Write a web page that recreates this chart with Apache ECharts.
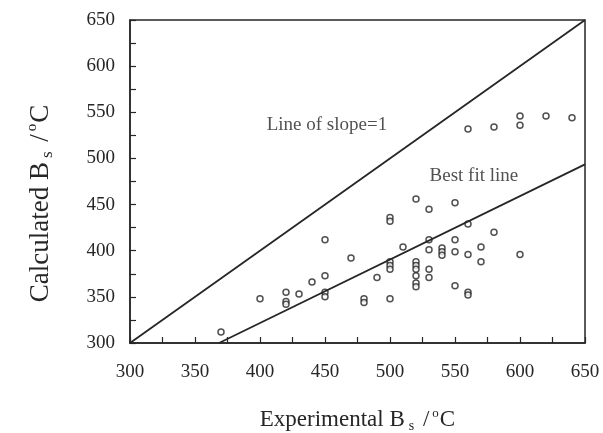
<!DOCTYPE html>
<html><head><meta charset="utf-8">
<script src="https://cdn.jsdelivr.net/npm/echarts@6/dist/echarts.min.js"></script>
<style>html,body{margin:0;padding:0;background:#fff}#c{width:603px;height:433px}</style>
</head><body><div id="c"></div>
<script>
// Experimental Bs (x) and calculated Bs (y), degrees C
const expBs = [370,400,420,420,420,430,440,450,450,450,450,470,480,480,490,
  500,500,500,500,500,500,510,520,520,520,520,520,520,520,
  530,530,530,530,530,540,540,540,550,550,550,550,560,560,560,560,
  570,570,580,600,560,580,600,600,620,640];
const calcBs = [312,348,355,345,342,353,366,412,373,355,350,392,348,344,371,
  436,432,388,384,380,348,404,456,388,384,380,373,365,361,
  445,412,401,380,371,403,399,395,452,412,399,362,429,396,355,352,
  404,388,420,396,532,534,546,536,546,544];
const slopeOneX = [300,650];
const slopeOneY = [300,650];
const fitX = [368.5,650];
const fitY = [300,493.6];
const xTicks = [300,350,400,450,500,550,600,650];
const yTicks = [300,350,400,450,500,550,600,650];
const noteText = ['Line of slope=1','Best fit line'];
const noteX = [451.5,564.5];
const noteY = [536.5,481];

const ink = '#262626';
const font = 'Liberation Serif';
function rich(s){
  return {
    sub:{fontFamily:font,fontSize:Math.round(s*0.62),color:ink,verticalAlign:'bottom',padding:[Math.round(s*0.5),3,0,4]},
    sup:{fontFamily:font,fontSize:Math.round(s*0.55),color:ink,verticalAlign:'top',padding:[0,1,Math.round(s*0.45),3]}
  };
}
const chart = echarts.init(document.getElementById('c'));
chart.setOption({
  backgroundColor:'#fff',
  animation:false,
  grid:{left:130,right:18,top:20,bottom:90,outerBoundsMode:'none',containLabel:false,
    show:true,borderColor:ink,borderWidth:1.5,backgroundColor:'transparent'},
  xAxis:{type:'value',min:xTicks[0],max:xTicks[xTicks.length-1],interval:50,
    axisLine:{show:true,lineStyle:{color:ink,width:1.5}},
    axisTick:{show:true,inside:true,length:6,lineStyle:{color:ink,width:1.2}},
    minorTick:{show:true,splitNumber:2,length:6,lineStyle:{color:ink,width:1.2}},
    splitLine:{show:false},
    axisLabel:{color:ink,fontFamily:font,fontSize:19,margin:20},
    name:'Experimental B{sub|s} /{sup|o}C',nameLocation:'middle',nameGap:64,
    nameTextStyle:{color:ink,fontFamily:font,fontSize:23,rich:rich(23)}},
  yAxis:{type:'value',min:yTicks[0],max:yTicks[yTicks.length-1],interval:50,
    axisLine:{show:true,lineStyle:{color:ink,width:1.5}},
    axisTick:{show:true,inside:true,length:6,lineStyle:{color:ink,width:1.2}},
    minorTick:{show:true,splitNumber:2,length:6,lineStyle:{color:ink,width:1.2}},
    splitLine:{show:false},
    axisLabel:{color:ink,fontFamily:font,fontSize:19,margin:15},
    name:'Calculated B{sub|s} /{sup|o}C',nameLocation:'middle',nameGap:74,nameRotate:90,
    nameTextStyle:{color:ink,fontFamily:font,fontSize:27,rich:rich(27),padding:[0,44,0,0]}},
  series:[
    {type:'line',data:slopeOneX.map((x,i)=>[x,slopeOneY[i]]),symbol:'none',
      lineStyle:{color:ink,width:1.8}},
    {type:'line',data:fitX.map((x,i)=>[x,fitY[i]]),symbol:'none',
      lineStyle:{color:ink,width:1.8}},
    {type:'scatter',data:expBs.map((x,i)=>[x,calcBs[i]]),symbol:'circle',symbolSize:6,
      itemStyle:{color:'#fff',borderColor:ink,borderWidth:1.5}},
    {type:'scatter',silent:true,symbolSize:0,
      data:noteX.map((x,i)=>({value:[x,noteY[i]],name:noteText[i]})),
      label:{show:true,position:'inside',formatter:p=>p.name,color:ink,fontFamily:font,fontSize:19}}
  ]
});
</script></body></html>
